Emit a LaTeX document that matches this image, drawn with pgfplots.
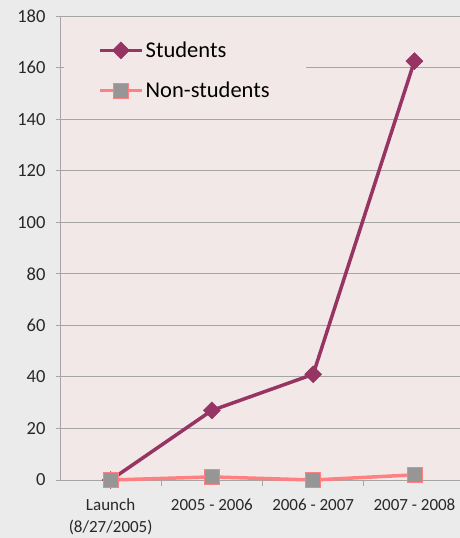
\documentclass[border=0pt]{standalone}
\usepackage{pgfplots}
\pgfplotsset{compat=1.18}
\usepackage{fontspec}
\setmainfont{Carlito}
\definecolor{outerbg}{RGB}{235,235,235}
\definecolor{plotbg}{RGB}{243,232,232}
\definecolor{gridgray}{RGB}{165,165,165}
\definecolor{students}{RGB}{150,52,100}
\definecolor{nonstud}{RGB}{255,128,128}
\definecolor{sqgray}{RGB}{150,150,150}
\definecolor{labeltext}{RGB}{40,40,40}

\begin{document}
\begin{tikzpicture}
% page background and fixed frame
\fill[outerbg] (-60pt,-58pt) rectangle (400pt,480pt);
\path[use as bounding box] (-60pt,-58pt) rectangle (400pt,480pt);
\begin{axis}[
  scale only axis,
  width=400pt, height=464pt,
  xmin=-0.5, xmax=3.45,
  ymin=0, ymax=180,
  ytick={0,20,...,180},
  xtick={0,1,2,3},
  xticklabels={{Launch\\(8/27/2005)},{2005 - 2006},{2006 - 2007},{2007 - 2008}},
  x tick label style={align=center, font=\fontsize{17}{22}\selectfont, text=labeltext},
  y tick label style={font=\fontsize{18.5}{20}\selectfont, text=labeltext},
  /pgf/number format/assume math mode=true,
  x tick style={draw=none},
  extra x ticks={0.5,1.5,2.5},
  extra x tick labels={},
  extra x tick style={x tick style={draw=gridgray, line width=0.8pt}, major tick length=6pt, tick align=outside, grid=none},
  y tick style={draw=gridgray, line width=0.8pt},
  tick align=outside,
  major tick length=8pt,
  ymajorgrids,
  grid style={draw=gridgray, line width=0.8pt},
  axis x line=bottom, axis y line=left,
  axis line style={-, draw=gridgray, line width=0.8pt},
  axis background/.style={fill=plotbg},
  xticklabel shift=11pt,
  yticklabel shift=7pt,
  clip=false,
  legend style={at={(0.01,0.962)}, anchor=north west, fill=plotbg, draw=none,
    font=\fontsize{22.5}{25}\selectfont, text=black, inner xsep=34pt, inner ysep=6pt,
    row sep=19pt, cells={anchor=west}},
  legend image code/.code={
    \draw[#1, mark=none] (0pt,0pt) -- (42pt,0pt);
    \draw[#1, only marks] plot coordinates {(21pt,0pt)};
  },
]
\addplot[students, line width=3.5pt, mark=square*, mark size=6pt,
  mark options={rotate=45, fill=students, draw=students, line width=0.5pt}]
  coordinates {(0,0) (1,27) (2,41) (3,162.5)};
\addlegendentry{Students}
\addplot[nonstud, line width=3.5pt, mark=square*, mark size=7.5pt,
  mark options={fill=sqgray, draw=nonstud, line width=0.8pt}]
  coordinates {(0,0) (1,1.2) (2,0) (3,2)};
\addlegendentry{Non-students}
\end{axis}
\end{tikzpicture}
\end{document}
